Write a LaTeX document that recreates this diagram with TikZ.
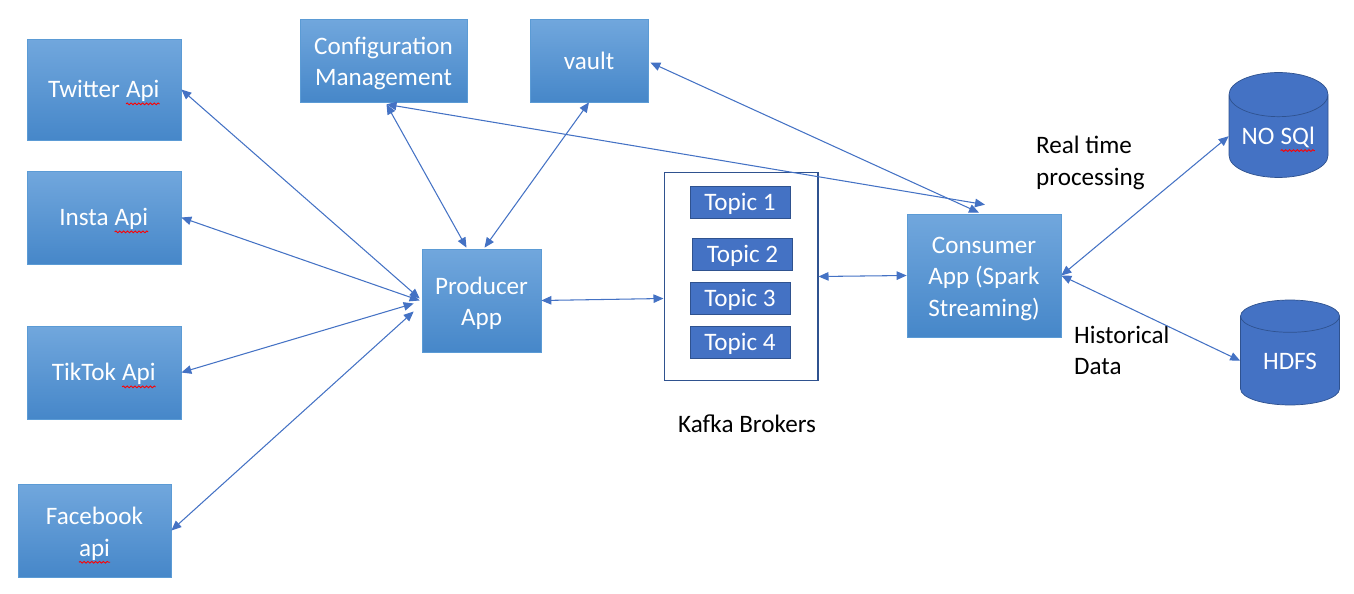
\documentclass[tikz,border=0pt]{standalone}
\usepackage{fontspec}
\setmainfont{Carlito}
\usetikzlibrary{arrows.meta,calc,shapes.geometric,decorations.pathmorphing}
\definecolor{boxtop}{RGB}{113,167,221}
\definecolor{boxbot}{RGB}{70,135,201}
\definecolor{boxedge}{RGB}{91,155,213}
\definecolor{darkblue}{RGB}{68,114,196}
\definecolor{deepedge}{RGB}{47,82,143}
\newcommand{\spellerr}[1]{\tikz[baseline=(sw.base),x=1cm,y=1cm]{\node[shape=rectangle,anchor=center,minimum width=0pt,minimum height=0pt,inner sep=0pt,outer sep=0pt,text=white,align=left,execute at begin node={},execute at end node={}] (sw) {#1};
  \draw [red,line width=0.5pt,decorate,decoration={snake,amplitude=0.5pt,segment length=2.2pt}] ($(sw.base west)+(0,-3.5pt)$) -- ($(sw.base east)+(0,-3.5pt)$);}}
\newcommand{\topline}{\rule{0pt}{14.5pt}}

\begin{document}
\begin{tikzpicture}[x=0.02cm,y=-0.02cm,
  font=\fontsize{14.3}{17.9}\selectfont,
  linebox/.style={execute at begin node={\rule{0pt}{13.6pt}},execute at end node={\rule[-3.8pt]{0pt}{0pt}}},
  app/.style={linebox,draw=boxedge,top color=boxtop,bottom color=boxbot,text=white,align=center,inner sep=2pt},
  topic/.style={linebox,draw=deepedge,fill=darkblue,text=white,minimum width=2cm,minimum height=0.64cm,inner sep=0pt},
  store/.style={linebox,cylinder,shape border rotate=90,draw=deepedge,fill=darkblue,text=white,aspect=0.6,minimum width=1.98cm,minimum height=2.1cm,inner sep=0pt,anchor=shape center},
  link/.style={{Triangle[length=0.2cm,width=0.17cm]}-{Triangle[length=0.2cm,width=0.17cm]},draw=darkblue,line width=0.6pt}]
\useasboundingbox (0,0) rectangle (1354,594);
% sources
\node [app,minimum width=3.08cm,minimum height=2.02cm] (twitter) at (104,89.5) {Twitter \spellerr{Api}};
\node [app,minimum width=3.08cm,minimum height=1.86cm] (insta) at (104,217.5) {Insta \spellerr{Api}};
\node [app,minimum width=3.08cm,minimum height=1.86cm] (tiktok) at (104,372.5) {TikTok \spellerr{Api}};
\node [app,minimum width=3.06cm,minimum height=1.86cm] (facebook) at (94.5,530.5) {\rule{0pt}{15.5pt}Facebook\\\spellerr{api}};
% config and secrets
\node [app,minimum width=3.34cm,minimum height=1.66cm] (config) at (383.5,60.5) {\topline Configuration\\Management};
\node [app,minimum width=2.36cm,minimum height=1.66cm] (vault) at (589,60.5) {vault};
% producer
\node [app,minimum width=2.38cm,minimum height=2.06cm] (producer) at (481.5,300.5) {\topline Producer\\App};
% kafka
\node [draw=deepedge,line width=0.6pt,minimum width=3.08cm,minimum height=4.16cm] (kafka) at (741,276.5) {};
\node [topic] (topic1) at (740,202) {Topic 1};
\node [topic] (topic2) at (742.5,254) {Topic 2};
\node [topic] (topic3) at (740,298) {Topic 3};
\node [topic] (topic4) at (740,342) {Topic 4};
\node (brokers) at (747,424) {Kafka Brokers};
% consumer and sinks
\node [app,minimum width=3.08cm,minimum height=2.46cm] (consumer) at (984,275.5) {\topline Consumer\\App (Spark\\Streaming)};
\node [store] (nosql) at (1278.5,125) {NO \spellerr{SQl}};
\node [store] (hdfs) at (1290,352.5) {HDFS};
\node [anchor=west,align=left] (realtime) at (1030,163) {Real time\\processing};
\node [anchor=west,align=left] (historical) at (1068,350.5) {Historical\\Data};
% links
\draw [link] (twitter.east) -- ($(producer.west)+(-2,-2)$);
\draw [link] (insta.east) -- ($(producer.west)+(-2,0)$);
\draw [link] (tiktok.east) -- ($(producer.west)+(-8,3)$);
\draw [link] (facebook.east) -- ($(producer.west)+(-8,11)$);
\draw [link] ($(config.south)+(3,2)$) -- ($(producer.north)+(-15,-1)$);
\draw [link] (vault.south) -- ($(producer.north)+(3,-1)$);
\draw [link] ($(config.south)+(3,2)$) -- ($(consumer.north)+(1,-9)$);
\draw [link] ($(vault.east)+(2,2)$) -- ($(consumer.north)+(-5,-1)$);
\draw [link] (producer.east) -- ($(kafka.west)+(0,22)$);
\draw [link] (kafka.east) -- (consumer.west);
\draw [link] (consumer.east) -- (nosql.west);
\draw [link] (consumer.east) -- (hdfs.west);
\end{tikzpicture}
\end{document}
